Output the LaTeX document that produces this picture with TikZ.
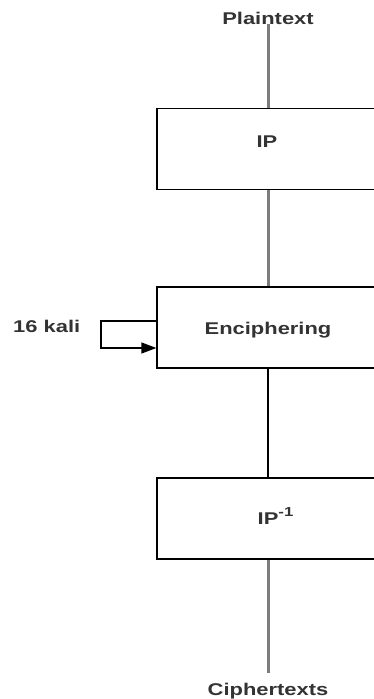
\documentclass[tikz,border=0pt]{standalone}
\usepackage{fontspec}
\setmainfont{Liberation Sans}[FakeStretch=1.29]
\usetikzlibrary{arrows.meta}
\definecolor{txt}{HTML}{333333}
\definecolor{gline}{HTML}{7C7C7C}
\tikzset{
  box/.style={draw=black,line width=1.3pt,minimum width=222pt,minimum height=81pt,inner sep=0pt},
  lbl/.style={text=txt,font=\fontsize{17}{17}\selectfont\bfseries,inner sep=0pt,anchor=base},
  glink/.style={draw=gline,line width=3pt},
  blink/.style={draw=black,line width=1.3pt},
}
\begin{document}
\begin{tikzpicture}[x=1pt,y=-1pt]
\useasboundingbox (0,0) rectangle (374,699);
\clip (0,0) rectangle (374,699);
% boxes
\node[box] (ip) at (268,148.75) {};
\node[box] (enc) at (268,327.5) {};
\node[box] (ipinv) at (268,518.5) {};
% labels
\node[lbl] (pt) at (268,24) {Plaintext};
\node[lbl] (iplbl) at (267,147) {IP};
\node[lbl] (enclbl) at (268,334) {Enciphering};
\node[lbl,anchor=base west] (kali) at (13,332) {16 kali};
\node[lbl,anchor=base west] (ipinvlbl) at (257.5,524) {IP\raisebox{8pt}{\fontsize{13}{13}\selectfont -1}};
\node[lbl] (ct) at (268,695) {Ciphertexts};
% connectors
\draw[glink] (pt.south) -- (ip.north);
\draw[glink] (ip.south) -- (enc.north);
\draw[blink] (enc.south) -- (ipinv.north);
\draw[glink] (ipinv.south) -- ([yshift=9.6pt]ct.north);
\draw[blink,-{Triangle[length=15pt,width=11pt]}] (enc.west |- 0,321) -- (101,321) -- (101,348) -- (enc.west |- 0,348);
\end{tikzpicture}
\end{document}
